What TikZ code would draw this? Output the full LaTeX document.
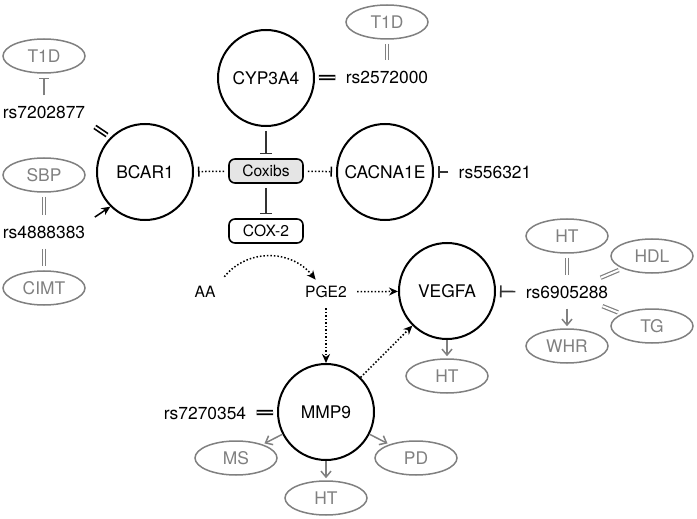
\documentclass[tikz,border=0pt]{standalone}
\usepackage{fontspec}
\setmainfont{TeX Gyre Heros}
\usepackage{tikz}
\usetikzlibrary{shapes.geometric,arrows.meta}
\definecolor{traitgray}{gray}{0.5}

\begin{document}
\begin{tikzpicture}[
    x=0.5pt,y=-0.5pt,font=\fontsize{8.7}{10}\selectfont,
    gene/.style={draw,circle,line width=1pt,minimum size=48pt,inner sep=0pt},
    trait/.style={draw=traitgray,text=traitgray,ellipse,line width=.75pt,minimum width=41pt,minimum height=17pt,inner sep=0pt},
    drug/.style={draw,rounded corners=3pt,line width=.8pt,minimum width=37pt,minimum height=12pt,inner sep=0pt,font=\fontsize{7.8}{9}\selectfont},
    snp/.style={inner sep=3pt},
    metab/.style={inner sep=3pt,font=\fontsize{7.8}{9}\selectfont},
    assoc/.style={double,double distance=.9pt,line width=.85pt,shorten <=2pt,shorten >=2pt},
    gassoc/.style={assoc,draw=traitgray,line width=.6pt,double distance=1pt},
    inhib/.style={line width=.8pt,draw=black!80,-{Bar[width=6pt]},shorten <=2pt,shorten >=2pt},
    ginhib/.style={inhib,draw=traitgray,line width=.6pt,-{Bar[width=5pt]}},
    dinhib/.style={line width=.75pt,dash pattern=on .75pt off 1pt,-{Bar[width=5pt]},shorten <=2pt,shorten >=2pt},
    darrow/.style={line width=.75pt,dash pattern=on .75pt off 1pt,-{Stealth[length=4.5pt,width=4pt]}},
    actarrow/.style={line width=.75pt,-{Stealth[length=4.5pt,width=4pt]}},
    garrow/.style={line width=.75pt,draw=traitgray,-{Straight Barb[length=3pt,width=5pt]},shorten >=1pt}
  ]
  \useasboundingbox (0,0) rectangle (697,519);
  \node[gene] (bcar) at (145,172) {BCAR1};
  \node[gene] (cyp) at (266,78) {CYP3A4};
  \node[gene] (cacna) at (385,172) {CACNA1E};
  \node[gene] (vegfa) at (447,291) {VEGFA};
  \node[gene] (mmp9) at (326,412) {MMP9};
  \node[drug,fill=black!10] (coxibs) at (266,171) {Coxibs};
  \node[drug] (cox2) at (266,231) {COX-2};
  \node[trait] (t1da) at (44,56) {T1D};
  \node[snp] (rs72) at (44,112) {rs7202877};
  \node[trait] (sbp) at (44,175) {SBP};
  \node[snp] (rs48) at (44,232) {rs4888383};
  \node[trait] (cimt) at (44,288) {CIMT};
  \node[trait] (t1db) at (387,22) {T1D};
  \node[snp] (rs25) at (387,77) {rs2572000};
  \node[snp] (rs55) at (495,172) {rs556321};
  \node[metab] (aa) at (205,292) {AA};
  \node[metab] (pge2) at (326,292) {PGE2};
  \node[snp] (rs69) at (567,292) {rs6905288};
  \node[trait] (htc) at (567,236) {HT};
  \node[trait] (hdl) at (652,256) {HDL};
  \node[trait] (tg) at (652,326) {TG};
  \node[trait] (whr) at (567,346) {WHR};
  \node[trait] (htb) at (447,376) {HT};
  \node[snp] (rs73) at (205,413) {rs7270354};
  \node[trait] (ms) at (236,458) {MS};
  \node[trait] (pd) at (416,458) {PD};
  \node[trait] (htd) at (326,498) {HT};

  \draw[ginhib] (rs72) -- (t1da);
  \draw[assoc] (rs72.south east) -- (bcar.north west);
  \draw[gassoc] (sbp) -- (rs48);
  \draw[gassoc] (rs48) -- (cimt);
  \draw[actarrow,shorten <=2pt] (rs48.north east) -- (bcar.south west);
  \draw[gassoc] (t1db) -- (rs25);
  \draw[assoc] (cyp) -- (rs25);
  \draw[inhib] (cyp) -- (coxibs);
  \draw[inhib] (coxibs) -- (cox2);
  \draw[dinhib] (coxibs) -- (bcar);
  \draw[dinhib] (coxibs) -- (cacna);
  \draw[inhib] (rs55) -- (cacna);
  \draw[darrow,shorten <=2pt] (aa.north east) .. controls +(25,-31) and +(-25,-31) .. (pge2.130);
  \draw[darrow,shorten <=2pt] (pge2) -- (vegfa);
  \draw[darrow,shorten <=2pt] (pge2) -- (mmp9);
  \draw[darrow] (mmp9.north east) -- (vegfa.south west);
  \draw[inhib] (rs69) -- (vegfa);
  \draw[gassoc] (htc) -- (rs69);
  \draw[gassoc] (rs69) -- (hdl);
  \draw[gassoc] (rs69) -- (tg);
  \draw[garrow,shorten <=2pt] (rs69) -- (whr);
  \draw[garrow] (vegfa) -- (htb);
  \draw[assoc] (rs73) -- (mmp9);
  \draw[garrow] (mmp9) -- (ms);
  \draw[garrow] (mmp9) -- (pd);
  \draw[garrow] (mmp9) -- (htd);
\end{tikzpicture}
\end{document}
